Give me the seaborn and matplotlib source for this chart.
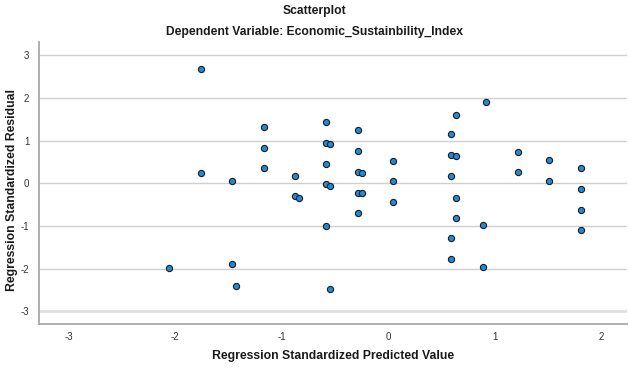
import matplotlib
matplotlib.use("Agg")
import matplotlib.pyplot as plt
import seaborn as sns
import pandas as pd

predicted = [-1.76, -1.76, -1.47, -1.17, -1.17, -1.17, -0.88, -0.88, -0.84,
             -0.585, -0.585, -0.545, -0.585, -0.585, -0.545, -0.585, -0.545,
             -0.29, -0.29, -0.29, -0.25, -0.29, -0.25, -0.29,
             0.04, 0.04, 0.04,
             0.59, 0.63, 0.59, 0.63, 0.59, 0.63, 0.63, 0.59, 0.59,
             0.92, 0.885, 0.885,
             1.22, 1.22, 1.51, 1.51,
             1.81, 1.81, 1.81, 1.81,
             -2.06, -1.47, -1.43]
residual = [2.68, 0.25, 0.05, 1.32, 0.83, 0.35, 0.16, -0.31, -0.34,
            1.43, 0.94, 0.91, 0.45, -0.03, -0.06, -1.00, -2.48,
            1.24, 0.75, 0.26, 0.24, -0.23, -0.24, -0.70,
            0.53, 0.05, -0.44,
            1.15, 1.61, 0.66, 0.64, 0.17, -0.34, -0.82, -1.29, -1.77,
            1.90, -0.98, -1.97,
            0.74, 0.26, 0.55, 0.06,
            0.36, -0.13, -0.62, -1.10,
            -1.99, -1.89, -2.41]

x_ticks = [-3, -2, -1, 0, 1, 2]
y_ticks = [-3, -2, -1, 0, 1, 2, 3]

title1 = "Scatterplot"
title2 = "Dependent Variable: Economic_Sustainbility_Index"
xlabel = "Regression Standardized Predicted Value"
ylabel = "Regression Standardized Residual"

df = pd.DataFrame({"pred": predicted, "resid": residual})

sns.set_style("white")
plt.rcParams["font.family"] = ["Liberation Sans", "DejaVu Sans"]

fig = plt.figure(figsize=(6.29, 3.71), dpi=100)
ax = fig.add_axes([39 / 629, 1 - 324 / 371, 588 / 629, (324 - 42) / 371])

for yv in y_ticks:
    ax.axhline(yv, color="#cfcfcf" if yv != -3 else "#e0e0e0",
               lw=1.0 if yv != -3 else 2.0, zorder=0)

sns.scatterplot(data=df, x="pred", y="resid", ax=ax, s=20,
                color="#1f8ad8", edgecolor="#1b1b1b", linewidth=0.8, zorder=3)

ax.set_xlim(-3.28, 2.24)
ax.set_ylim(-3.30, 3.31)
ax.set_xticks(x_ticks)
ax.set_yticks(y_ticks)
ax.set_xticklabels([str(v) for v in x_ticks])
ax.set_yticklabels([str(v) for v in y_ticks])
ax.tick_params(axis="both", length=0, labelsize=7, colors="#333333")
ax.tick_params(axis="x", pad=6)
ax.tick_params(axis="y", pad=7)

for side in ["top", "right"]:
    ax.spines[side].set_visible(False)
for side in ["left", "bottom"]:
    ax.spines[side].set_color("#a8a8a8")
    ax.spines[side].set_linewidth(1.3)

ax.set_xlabel(xlabel, fontsize=8.8, fontweight="bold", color="#1a1a1a")
ax.set_ylabel(ylabel, fontsize=8.8, fontweight="bold", color="#1a1a1a")
ax.xaxis.set_label_coords(0.5, (324 - 356) / 282)
ax.yaxis.set_label_coords((12 - 39) / 588, 0.475)
ax.xaxis.label.set_va("center")
ax.yaxis.label.set_va("center")

fig.text(0.5, 1 - 11 / 371, title1, ha="center", va="center",
         fontsize=8.7, fontweight="bold", color="#1a1a1a")
fig.text(0.5, 1 - 32 / 371, title2, ha="center", va="center",
         fontsize=8.7, fontweight="bold", color="#1a1a1a")

fig.savefig("out.png", dpi=100)
